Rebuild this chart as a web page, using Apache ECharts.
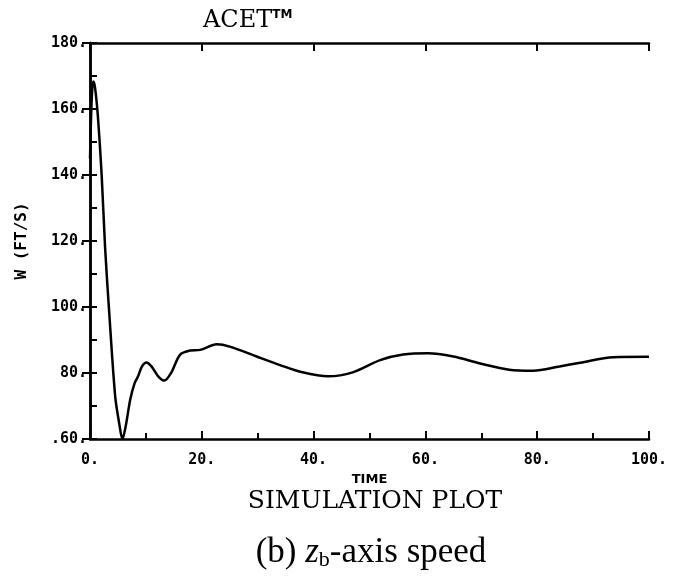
<!DOCTYPE html>
<html>
<head>
<meta charset="utf-8">
<script src="https://cdn.jsdelivr.net/npm/echarts@6/dist/echarts.min.js"></script>
<style>
  html, body { margin: 0; padding: 0; background: #fff; }
  #chart { width: 683px; height: 580px; }
</style>
</head>
<body>
<div id="chart"></div>
<script>
// values
const time = [0, 0.2, 0.4, 0.6, 0.9, 1.4, 2.1, 2.7, 3.45, 4.5, 5.2, 5.8, 6.4, 7.2, 8.0, 8.6, 9.3, 10.1, 11.0, 12.2, 13.3, 14.5, 16.1, 17.9, 19.7, 22.7, 25, 29.8, 34, 38, 42.6, 47, 51.9, 56, 60.5, 65, 69.8, 75, 79.3, 84, 87.7, 93.6, 100]
const speed = [145, 158, 166, 168.3, 166.5, 158, 139.5, 118, 98, 73, 65, 60, 64, 72, 77, 79, 82, 83.2, 82, 79, 77.7, 80, 85.5, 86.8, 87, 88.7, 88, 85, 82.4, 80.2, 79, 80.2, 83.9, 85.6, 86, 85, 82.9, 81, 80.7, 82, 83.1, 84.8, 84.9]

const xTicks = { min: 0, max: 100, interval: 20 }
const yTicks = { min: 60, max: 180, interval: 20 }

const black = '#000'
const labelFont = { color: black, fontFamily: 'DejaVu Sans Mono', fontWeight: 'bold', fontSize: 15 }

const chart = echarts.init(document.getElementById('chart'))

chart.setOption({
  backgroundColor: '#fff',
  animation: false,
  title: [
    {
      text: 'ACET{sup|TM}',
      left: 198,
      top: 4,
      textStyle: {
        fontFamily: 'DejaVu Serif', fontSize: 24, fontWeight: 'normal', color: black,
        rich: { sup: { fontFamily: 'DejaVu Sans', fontWeight: 'bold', fontSize: 12, color: black, verticalAlign: 'top', padding: [0, 0, 12, 0] } }
      }
    },
    {
      text: 'SIMULATION PLOT',
      left: 370,
      textAlign: 'center',
      top: 484,
      textStyle: { fontFamily: 'DejaVu Serif', fontSize: 25, fontWeight: 'normal', color: black }
    },
    {
      text: '(b) {it|z}{sub|b}-axis speed',
      left: 366,
      textAlign: 'center',
      top: 530,
      textStyle: {
        fontFamily: 'Liberation Serif', fontSize: 35, fontWeight: 'normal', color: black,
        rich: {
          it: { fontFamily: 'Liberation Serif', fontStyle: 'italic', fontSize: 35, color: black },
          sub: { fontFamily: 'Liberation Serif', fontSize: 22, color: black, verticalAlign: 'bottom', padding: [14, 0, 0, 0] }
        }
      }
    }
  ],
  grid: { left: 90, right: 34, top: 43, bottom: 141 },
  xAxis: [
    {
      type: 'value',
      position: 'bottom',
      ...xTicks,
      name: 'TIME',
      nameLocation: 'middle',
      nameGap: 28,
      nameTextStyle: { color: black, fontFamily: 'DejaVu Sans', fontWeight: 'bold', fontSize: 13 },
      axisLine: { lineStyle: { color: black, width: 2.5 } },
      axisTick: { inside: true, length: 8, lineStyle: { color: black, width: 2 } },
      minorTick: { show: true, splitNumber: 2, length: 6, lineStyle: { color: black, width: 2 } },
      splitLine: { show: false },
      axisLabel: { ...labelFont, margin: 14, formatter: v => v + '.' }
    },
    {
      type: 'value',
      position: 'top',
      ...xTicks,
      axisLine: { lineStyle: { color: black, width: 2.5 } },
      axisTick: { inside: true, length: 8, lineStyle: { color: black, width: 2 } },
      splitLine: { show: false },
      axisLabel: { show: false }
    }
  ],
  yAxis: [
    {
      type: 'value',
      position: 'left',
      ...yTicks,
      name: 'W (FT/S)',
      nameLocation: 'middle',
      nameGap: 60,
      nameTextStyle: { color: black, fontFamily: 'DejaVu Sans Mono', fontWeight: 'bold', fontSize: 16 },
      axisLine: { lineStyle: { color: black, width: 2.5 } },
      axisTick: { inside: true, length: 7, lineStyle: { color: black, width: 2 } },
      minorTick: { show: true, splitNumber: 2, length: 7, lineStyle: { color: black, width: 2 } },
      splitLine: { show: false },
      axisLabel: { ...labelFont, margin: 3, formatter: v => (v === 60 ? '.60.' : v + '.') }
    },
    {
      type: 'value',
      position: 'right',
      ...yTicks,
      axisLine: { lineStyle: { color: black, width: 2.5 } },
      axisTick: { inside: true, length: 8, lineStyle: { color: black, width: 2 } },
      splitLine: { show: false },
      axisLabel: { show: false }
    }
  ],
  series: [
    {
      type: 'line',
      xAxisIndex: 0,
      yAxisIndex: 0,
      data: time.map((t, i) => [t, speed[i]]),
      showSymbol: false,
      smooth: 0.3,
      lineStyle: { color: black, width: 2.5 }
    }
  ]
})
</script>
</body>
</html>
